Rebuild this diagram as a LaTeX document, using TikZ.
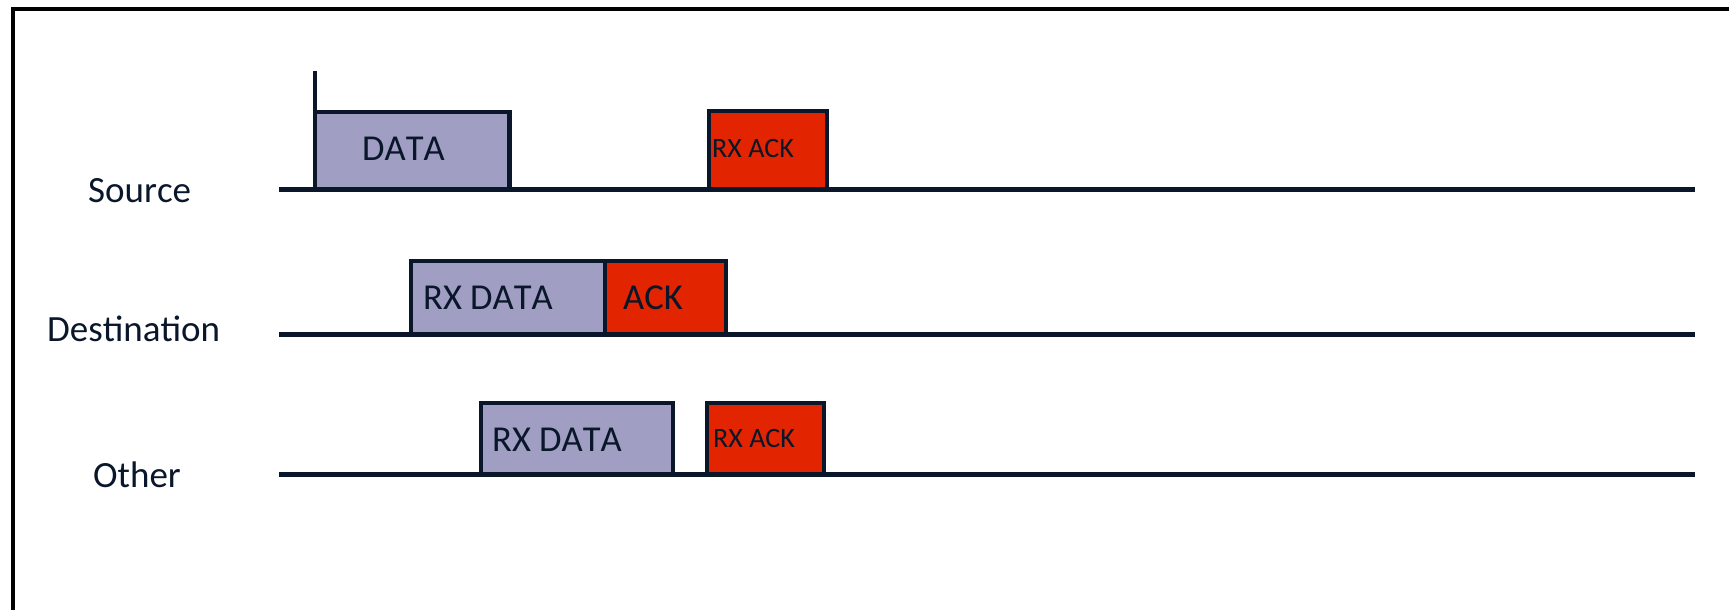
\documentclass[tikz,border=0pt]{standalone}
\usepackage{fontspec}
\setmainfont[Kerning=Off]{Carlito}
\definecolor{navy}{HTML}{0A1629}
\definecolor{lav}{HTML}{A09FC3}
\definecolor{ackred}{HTML}{E22400}
\begin{document}
\begin{tikzpicture}[x=1pt,y=-1pt,
  tl/.style={draw=navy,line width=5pt},
  databox/.style={draw=navy,line width=4.5pt,fill=lav},
  ackbox/.style={draw=navy,line width=4.5pt,fill=ackred},
  lbl/.style={inner sep=0pt,anchor=base west,text=navy,font=\fontsize{37}{40}\selectfont},
  big/.style={inner sep=0pt,anchor=base west,text=navy,font=\fontsize{36.5}{40}\selectfont},
  small/.style={inner sep=0pt,anchor=base west,text=navy,font=\fontsize{28}{32}\selectfont}]
\useasboundingbox (0,0) rectangle (1729,610);
% frame
\coordinate (fa) at (13,610);
\coordinate (fb) at (13,9);
\coordinate (fc) at (1729,9);
\draw[black,line width=4pt] (fa) -- (fb) -- (fc);
% timelines
\coordinate (s0) at (279,189); \coordinate (s1) at (1695,189);
\coordinate (d0) at (279,334); \coordinate (d1) at (1695,334);
\coordinate (o0) at (279,474); \coordinate (o1) at (1695,474);
% labels
\node[lbl] (lsrc) at (88,202) {Source};
\node[lbl] (ldst) at (47,341) {Destination};
\node[lbl] (loth) at (93,487) {Other};
% source boxes
\coordinate (sd0) at (315,112); \coordinate (sd1) at (509.5,189);
\draw[databox] (sd0) rectangle (sd1);
\coordinate (tk0) at (315,71);
\draw[draw=navy,line width=4pt] (tk0) -- (sd0);
\coordinate (sa0) at (709,111); \coordinate (sa1) at (827,189);
\draw[ackbox] (sa0) rectangle (sa1);
% destination boxes
\coordinate (dd0) at (411,261); \coordinate (dd1) at (605,334);
\draw[databox] (dd0) rectangle (dd1);
\coordinate (da0) at (605,261); \coordinate (da1) at (726,334);
\draw[ackbox] (da0) rectangle (da1);
% other boxes
\coordinate (od0) at (481,403); \coordinate (od1) at (673,474);
\draw[databox] (od0) rectangle (od1);
\coordinate (oa0) at (707,403); \coordinate (oa1) at (824,474);
\draw[ackbox] (oa0) rectangle (oa1);
% timelines on top
\draw[tl] (s0) -- (s1);
\draw[tl] (d0) -- (d1);
\draw[tl] (o0) -- (o1);
% box texts
\node[big] (tdata) at (362,160) {DATA};
\node[small] (tsack) at (712,157) {RX ACK};
\node[big] (tdrx) at (423,309) {RX DATA};
\node[big] (tdack) at (623,309) {ACK};
\node[big] (torx) at (492,451) {RX DATA};
\node[small] (toack) at (713,447) {RX ACK};
\end{tikzpicture}
\end{document}
